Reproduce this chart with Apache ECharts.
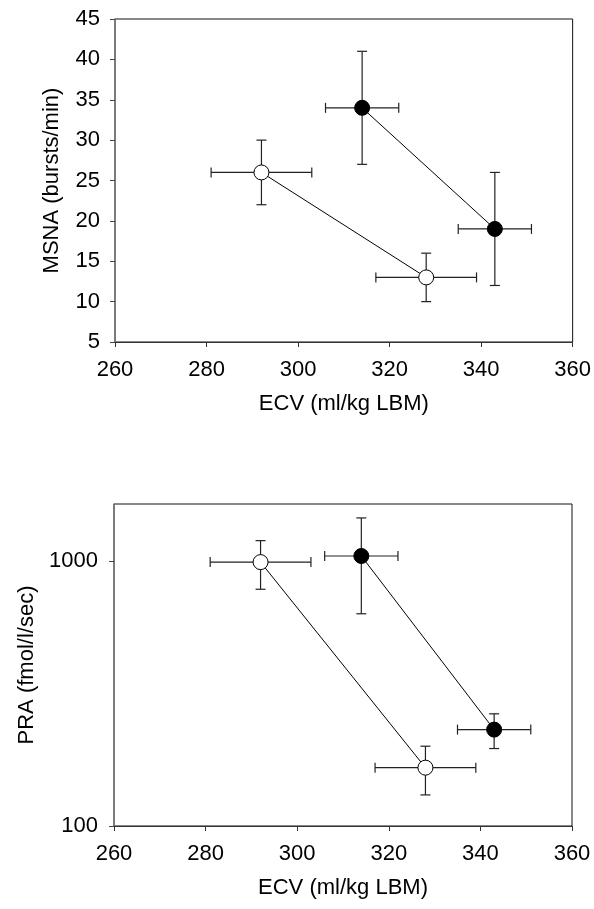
<!DOCTYPE html>
<html>
<head>
<meta charset="utf-8">
<script src="https://cdn.jsdelivr.net/npm/echarts@6/dist/echarts.min.js"></script>
<style>html,body{margin:0;padding:0;background:#fff;}#c{width:594px;height:909px;}</style>
</head>
<body>
<div id="c"></div>
<script>
// ---- Data ----
var xTickLabels = [260, 280, 300, 320, 340, 360];
var msnaTicks = [5, 10, 15, 20, 25, 30, 35, 40, 45];
var praTicks = [100, 1000];

// Top panel: MSNA vs ECV
var msnaOpenX = [292, 328];
var msnaOpenXerr = [11, 11];
var msnaOpenY = [26, 13];
var msnaOpenYerr = [4, 3];

var msnaFilledX = [314, 343];
var msnaFilledXerr = [8, 8];
var msnaFilledY = [34, 19];
var msnaFilledYerr = [7, 7];

// Bottom panel: PRA vs ECV (log scale, asymmetric error bars)
var praOpenX = [292, 328];
var praOpenXerr = [11, 11];
var praOpenY = [990, 166];
var praOpenYlow = [782, 131];
var praOpenYhigh = [1193, 200];

var praFilledX = [314, 343];
var praFilledXerr = [8, 8];
var praFilledY = [1044, 231];
var praFilledYlow = [632, 196];
var praFilledYhigh = [1453, 265];

// ---- Build ----
function pts(xs, ys) { return xs.map(function (x, i) { return [x, ys[i]]; }); }
function errRows(xs, xe, ys, ylo, yhi) {
  return xs.map(function (x, i) { return [x, ys[i], x - xe[i], x + xe[i], ylo[i], yhi[i]]; });
}
var INK = '#222';
var CAP = 5;
function renderErr(params, api) {
  var x = api.value(0), y = api.value(1);
  var xl = api.value(2), xh = api.value(3), yl = api.value(4), yh = api.value(5);
  var c = api.coord([x, y]);
  var pxl = api.coord([xl, y]), pxh = api.coord([xh, y]);
  var pyl = api.coord([x, yl]), pyh = api.coord([x, yh]);
  var st = { stroke: INK, lineWidth: 1.2 };
  function ln(x1, y1, x2, y2) { return { type: 'line', shape: { x1: x1, y1: y1, x2: x2, y2: y2 }, style: st }; }
  return {
    type: 'group',
    children: [
      ln(pxl[0], c[1], pxh[0], c[1]),
      ln(pxl[0], c[1] - CAP, pxl[0], c[1] + CAP),
      ln(pxh[0], c[1] - CAP, pxh[0], c[1] + CAP),
      ln(c[0], pyl[1], c[0], pyh[1]),
      ln(c[0] - CAP, pyl[1], c[0] + CAP, pyl[1]),
      ln(c[0] - CAP, pyh[1], c[0] + CAP, pyh[1])
    ]
  };
}

var FONT = 'Liberation Sans';
var FS = 22;
var lab = { color: '#000', fontFamily: FONT, fontSize: FS };

function xAxis(gi) {
  return {
    type: 'value', gridIndex: gi, min: 260, max: 360, interval: 20,
    name: 'ECV (ml/kg LBM)', nameLocation: 'middle', nameGap: 51,
    nameTextStyle: { color: '#000', fontFamily: FONT, fontSize: FS },
    axisLine: { show: true, lineStyle: { color: '#333', width: 1 } },
    axisTick: { show: true, inside: false, length: 5, lineStyle: { color: '#333' } },
    axisLabel: Object.assign({ margin: 17 }, lab),
    splitLine: { show: false }
  };
}

var sym = 15;
function lineSeries(xi, data, filled) {
  return {
    type: 'line', xAxisIndex: xi, yAxisIndex: xi, data: data, z: 5,
    symbol: 'circle', symbolSize: sym, showAllSymbol: true,
    lineStyle: { color: '#000', width: 1 },
    itemStyle: { color: filled ? '#000' : '#fff', borderColor: '#000', borderWidth: 1 },
    emphasis: { disabled: true }, animation: false
  };
}
function errSeries(xi, rows) {
  return {
    type: 'custom', xAxisIndex: xi, yAxisIndex: xi, data: rows, z: 3,
    renderItem: renderErr, animation: false, encode: { x: [0, 2, 3], y: [1, 4, 5] }
  };
}

var msnaOpenYlo = msnaOpenY.map(function (v, i) { return v - msnaOpenYerr[i]; });
var msnaOpenYhi = msnaOpenY.map(function (v, i) { return v + msnaOpenYerr[i]; });
var msnaFilledYlo = msnaFilledY.map(function (v, i) { return v - msnaFilledYerr[i]; });
var msnaFilledYhi = msnaFilledY.map(function (v, i) { return v + msnaFilledYerr[i]; });

var option = {
  backgroundColor: '#fff',
  animation: false,
  grid: [
    { left: 115, right: 21, top: 19, height: 323, show: true, borderColor: '#111', borderWidth: 1, backgroundColor: 'transparent' },
    { left: 114, right: 22, top: 504, height: 322, show: true, borderColor: '#111', borderWidth: 1, backgroundColor: 'transparent' }
  ],
  xAxis: [xAxis(0), xAxis(1)],
  yAxis: [
    {
      type: 'value', gridIndex: 0, min: msnaTicks[0], max: msnaTicks[msnaTicks.length - 1], interval: 5,
      name: 'MSNA (bursts/min)', nameLocation: 'middle', nameGap: 52,
      nameTextStyle: { color: '#000', fontFamily: FONT, fontSize: FS },
      axisLine: { show: true, lineStyle: { color: '#777', width: 1.5 } },
      axisTick: { show: true, length: 5, lineStyle: { color: '#444' } },
      axisLabel: Object.assign({ margin: 15 }, lab),
      splitLine: { show: false }
    },
    {
      type: 'log', logBase: 10, gridIndex: 1, min: 100, max: 1640,
      name: 'PRA (fmol/l/sec)', nameLocation: 'middle', nameGap: 52,
      nameTextStyle: { color: '#000', fontFamily: FONT, fontSize: FS },
      axisLine: { show: true, lineStyle: { color: '#777', width: 1.5 } },
      axisTick: { show: true, length: 5, lineStyle: { color: '#444' }, customValues: praTicks },
      axisLabel: Object.assign({ margin: 16, customValues: praTicks, formatter: function (v) {
        var r = Math.round(v);
        return praTicks.indexOf(r) >= 0 && Math.abs(v - r) < 1e-6 ? String(r) : '';
      } }, lab),
      splitLine: { show: false }
    }
  ],
  series: [
    errSeries(0, errRows(msnaOpenX, msnaOpenXerr, msnaOpenY, msnaOpenYlo, msnaOpenYhi)),
    errSeries(0, errRows(msnaFilledX, msnaFilledXerr, msnaFilledY, msnaFilledYlo, msnaFilledYhi)),
    lineSeries(0, pts(msnaOpenX, msnaOpenY), false),
    lineSeries(0, pts(msnaFilledX, msnaFilledY), true),
    errSeries(1, errRows(praOpenX, praOpenXerr, praOpenY, praOpenYlow, praOpenYhigh)),
    errSeries(1, errRows(praFilledX, praFilledXerr, praFilledY, praFilledYlow, praFilledYhigh)),
    lineSeries(1, pts(praOpenX, praOpenY), false),
    lineSeries(1, pts(praFilledX, praFilledY), true)
  ]
};
var chart = echarts.init(document.getElementById('c'), null, { renderer: 'canvas' });
chart.setOption(option);
</script>
</body>
</html>
